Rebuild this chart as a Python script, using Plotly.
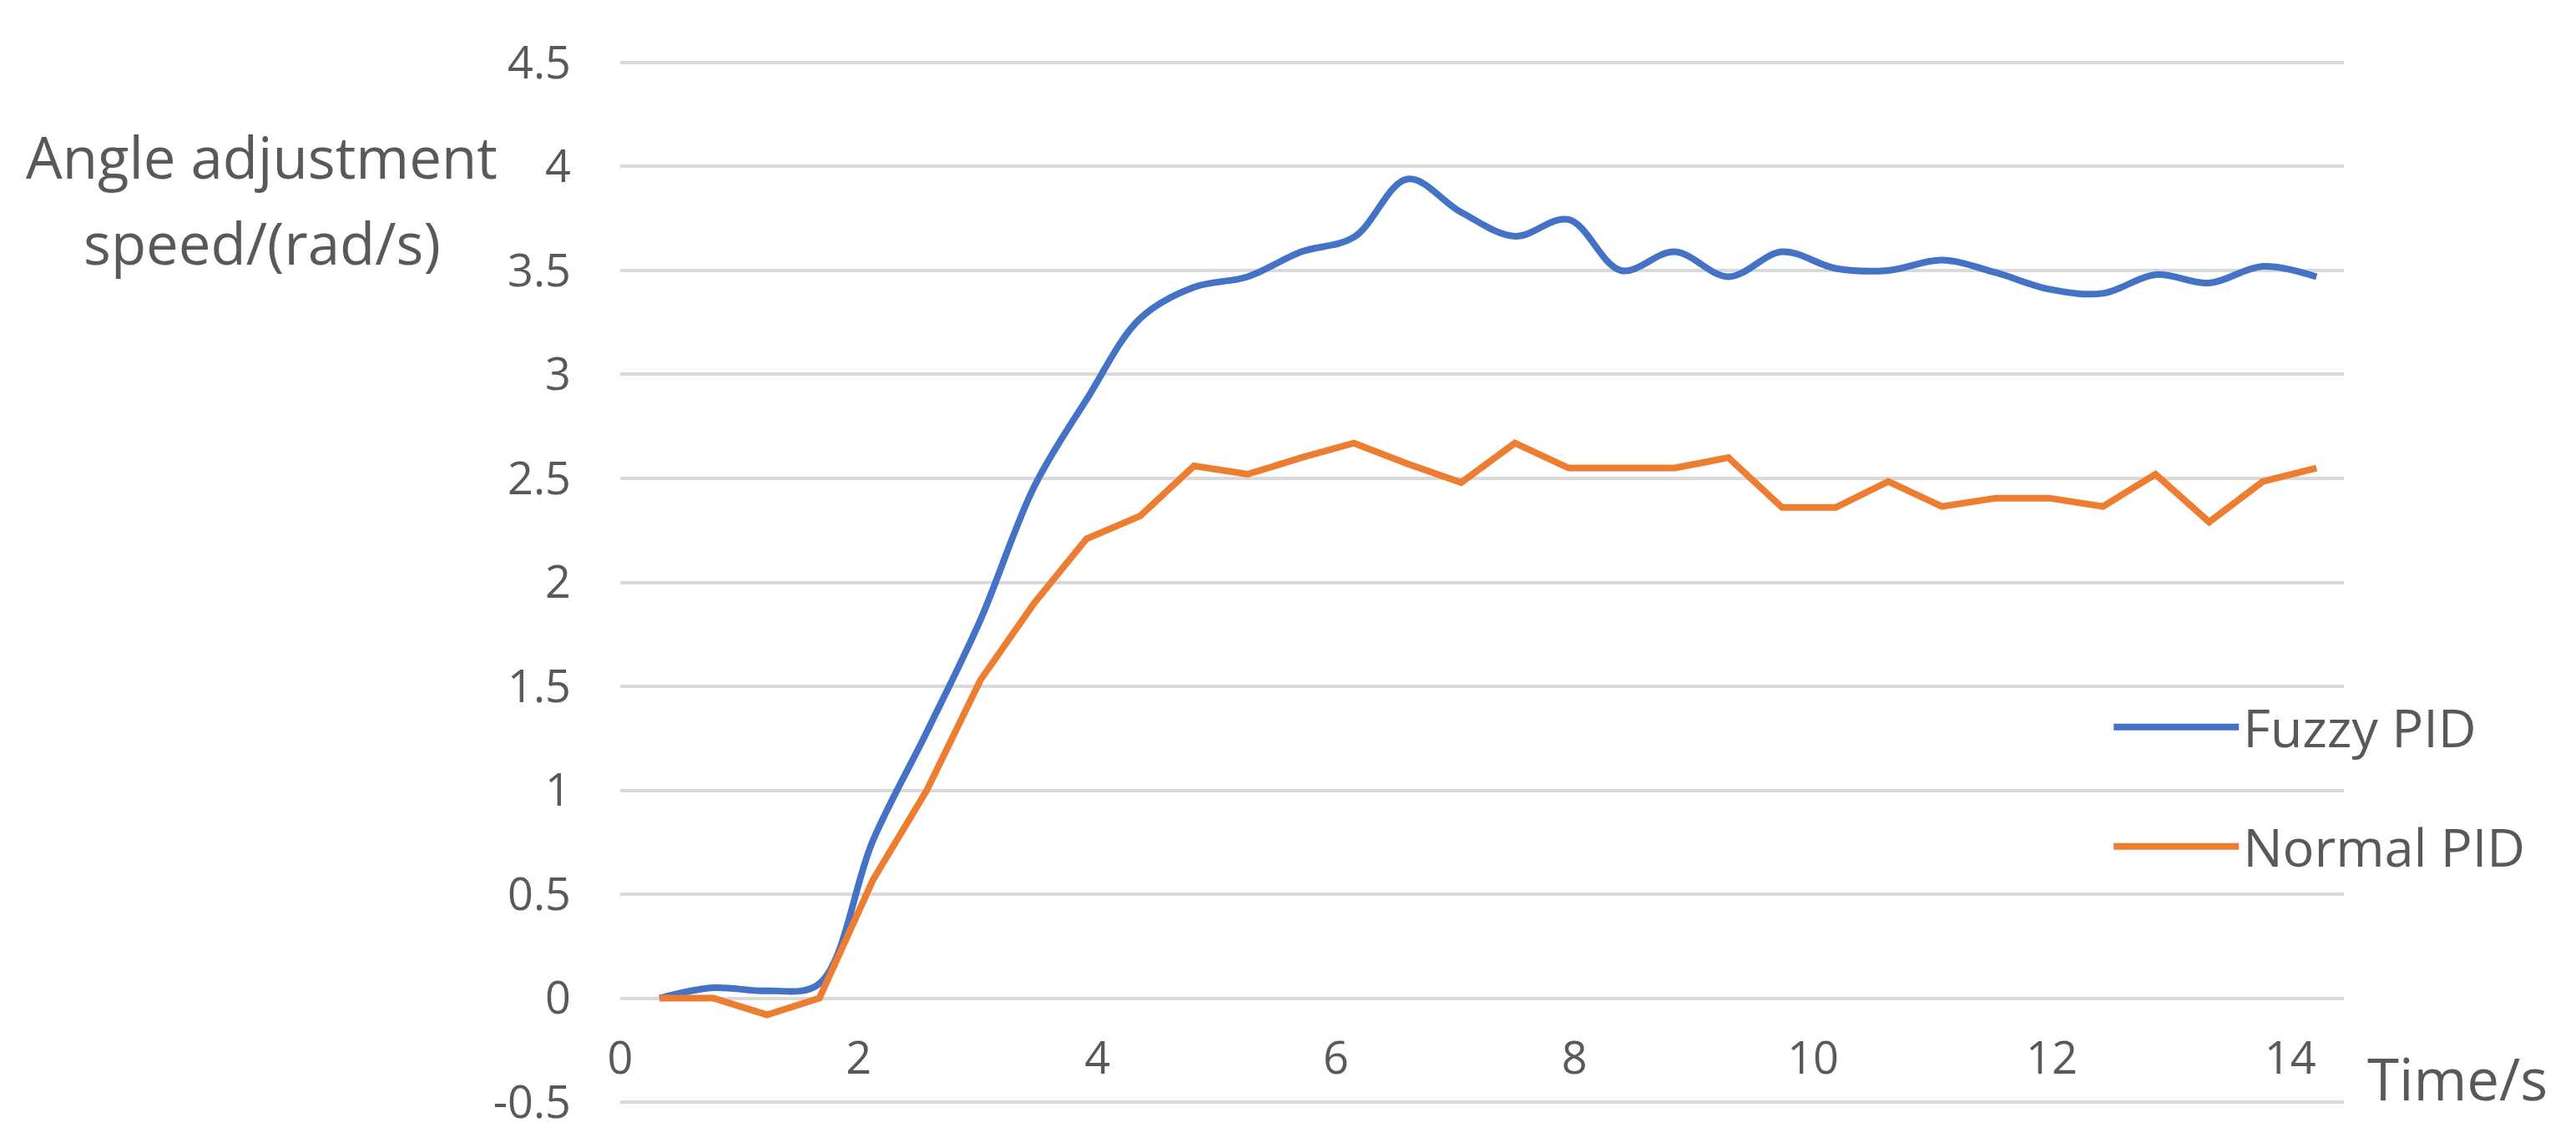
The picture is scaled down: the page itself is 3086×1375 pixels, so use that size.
import plotly.graph_objects as go

# time samples (s)
time_s = [0.33, 0.78, 1.23, 1.67, 2.12, 2.57, 3.02, 3.47, 3.91, 4.36, 4.81, 5.26,
          5.71, 6.15, 6.6, 7.05, 7.5, 7.95, 8.39, 8.84, 9.29, 9.74, 10.19, 10.63,
          11.08, 11.53, 11.98, 12.43, 12.87, 13.32, 13.77, 14.22]

fuzzy_pid = [0.0, 0.05, 0.035, 0.07, 0.76, 1.28, 1.82, 2.46, 2.88, 3.27, 3.42, 3.47,
             3.59, 3.66, 3.94, 3.78, 3.665, 3.745, 3.5, 3.59, 3.47, 3.59, 3.51, 3.5,
             3.55, 3.49, 3.41, 3.39, 3.48, 3.44, 3.52, 3.47]

normal_pid = [0.0, 0.0, -0.08, 0.0, 0.57, 1.0, 1.53, 1.9, 2.21, 2.32, 2.56, 2.52,
              2.6, 2.67, 2.57, 2.48, 2.67, 2.55, 2.55, 2.55, 2.6, 2.36, 2.36, 2.485,
              2.365, 2.405, 2.405, 2.365, 2.52, 2.29, 2.485, 2.55]

y_ticks = [-0.5, 0, 0.5, 1, 1.5, 2, 2.5, 3, 3.5, 4, 4.5]
y_labels = ["-0.5", "0", "0.5", "1", "1.5", "2", "2.5", "3", "3.5", "4", "4.5"]
x_ticks = [0, 2, 4, 6, 8, 10, 12, 14]

FONT = "Open Sans"
GREY = "#595959"

fig = go.Figure()
fig.add_trace(go.Scatter(x=time_s, y=fuzzy_pid, mode="lines", name="Fuzzy PID",
                         line=dict(color="#4472C4", width=8, shape="spline"),
                         legend="legend"))
fig.add_trace(go.Scatter(x=time_s, y=normal_pid, mode="lines", name="Normal PID",
                         line=dict(color="#ED7D31", width=8),
                         legend="legend2"))

def legend_box(ypos):
    return dict(font=dict(family=FONT, size=63, color=GREY),
                bgcolor="rgba(0,0,0,0)", itemwidth=150, visible=True,
                xanchor="left", yanchor="middle", x=0.864, y=ypos)

title_font = dict(family=FONT, size=69, color=GREY)

fig.update_layout(
    width=3078, height=1367,
    margin=dict(l=735, r=278, t=62, b=50),
    plot_bgcolor="white", paper_bgcolor="white",
    font=dict(family=FONT, color=GREY),
    showlegend=True,
    legend=legend_box(0.362),
    legend2=legend_box(0.248),
    xaxis=dict(range=[0, 14.45], tickvals=x_ticks, showgrid=False, zeroline=False,
               showline=False, anchor="free", position=0.1032,
               tickfont=dict(family=FONT, size=54, color=GREY),
               ticklabelstandoff=36),
    yaxis=dict(range=[-0.52, 4.52], tickvals=y_ticks, ticktext=y_labels,
               showgrid=True, gridcolor="#D9D9D9", gridwidth=4, zeroline=False,
               showline=False, tickfont=dict(family=FONT, size=54, color=GREY),
               ticklabelstandoff=58),
    annotations=[
        dict(text="Angle adjustment", xref="paper", yref="paper", x=-0.2078, y=0.907,
             xanchor="center", yanchor="middle", showarrow=False, font=title_font),
        dict(text="speed/(rad/s)", xref="paper", yref="paper", x=-0.2078, y=0.825,
             xanchor="center", yanchor="middle", showarrow=False, font=title_font),
        dict(text="Time/s", xref="paper", yref="paper", x=1.066, y=0.027,
             xanchor="center", yanchor="middle", showarrow=False, font=title_font),
    ],
)

fig.write_html("out.html")
